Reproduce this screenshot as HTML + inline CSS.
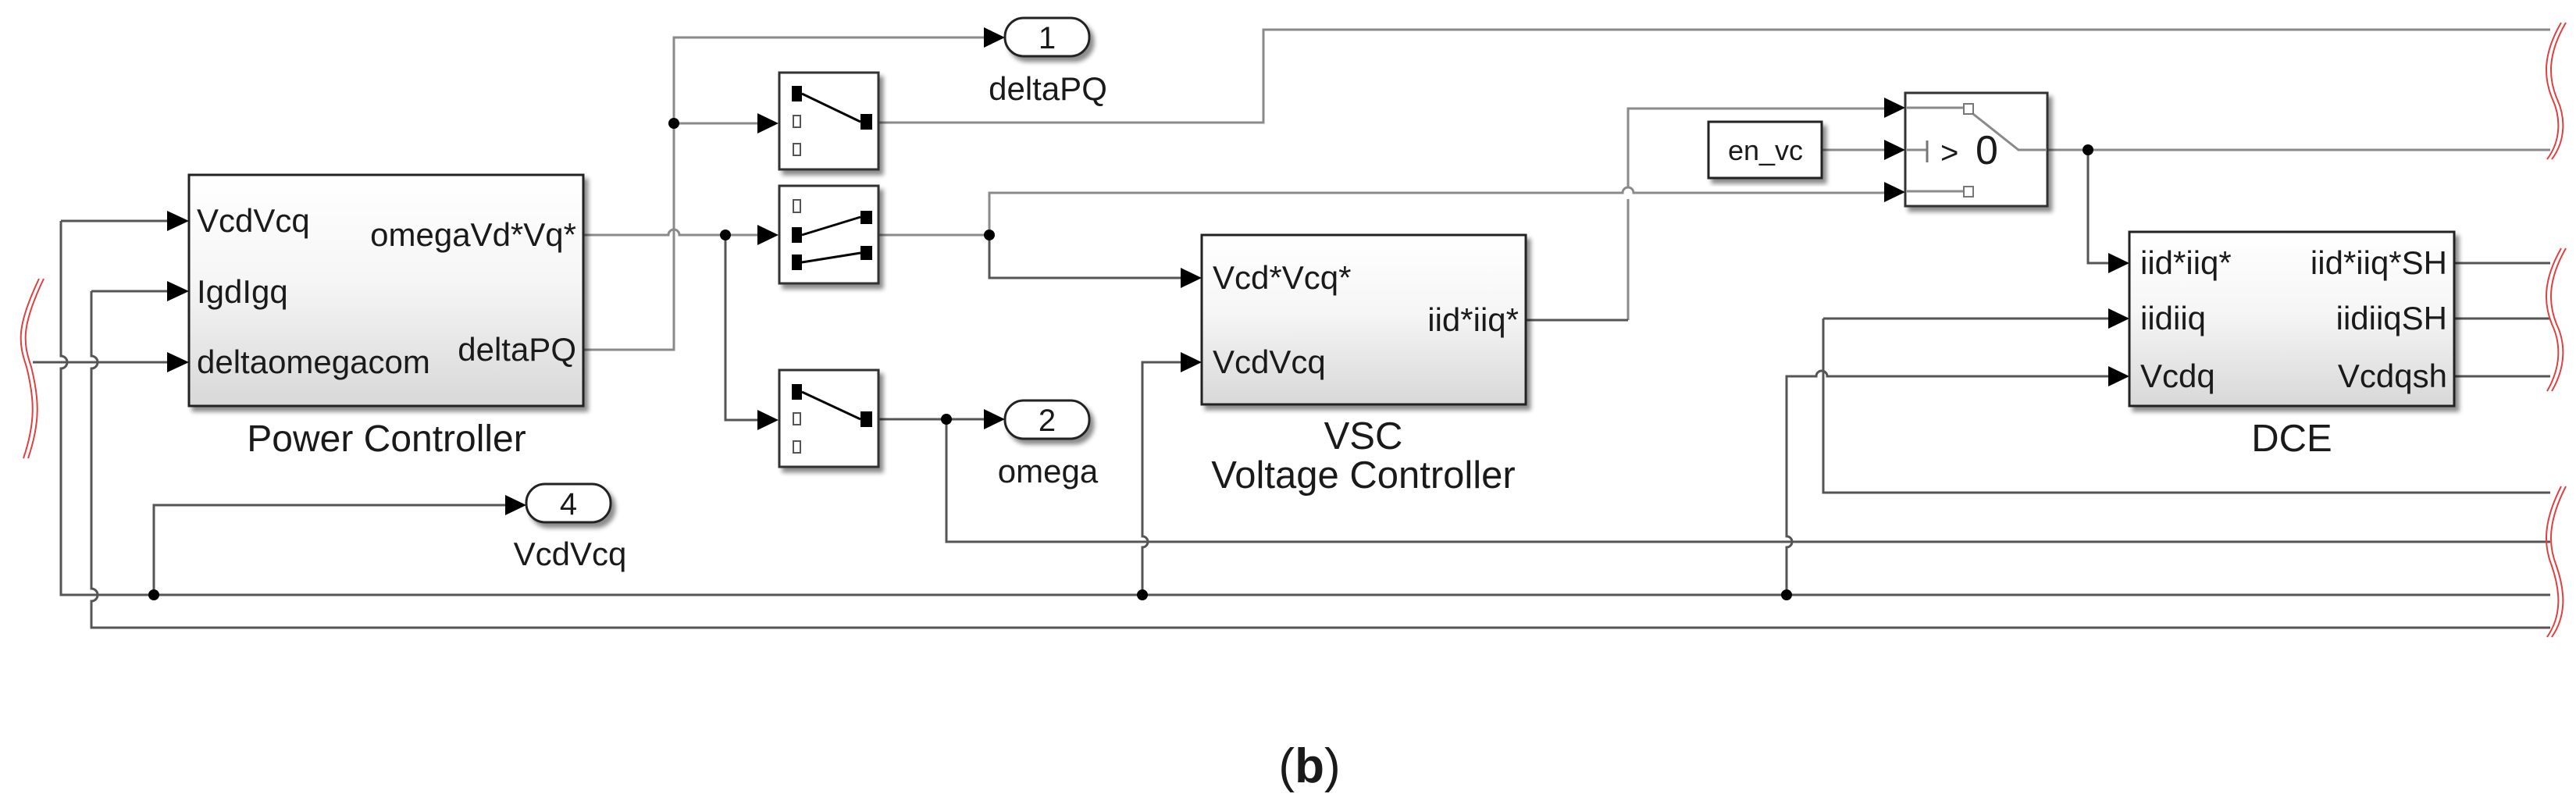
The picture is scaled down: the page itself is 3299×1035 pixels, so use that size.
<!DOCTYPE html>
<html><head><meta charset="utf-8"><style>
html,body{margin:0;padding:0;background:#fff;}
svg{display:block;}
text{font-family:"Liberation Sans",Arial,sans-serif;fill:#1a1a1a;}
</style></head><body>
<svg width="3299" height="1035" viewBox="0 0 3299 1035" xmlns="http://www.w3.org/2000/svg">
<defs>
<linearGradient id="g" x1="0" y1="0" x2="0" y2="1">
<stop offset="0" stop-color="#ffffff"/><stop offset="0.45" stop-color="#f6f6f6"/><stop offset="1" stop-color="#d8d8d8"/>
</linearGradient>
<filter id="sh" x="-5%" y="-5%" width="115%" height="120%"><feDropShadow dx="5" dy="6" stdDeviation="3" flood-color="#000" flood-opacity="0.45"/></filter>
</defs>
<rect width="3299" height="1035" fill="#fff"/>

<!-- wires -->
<g fill="none" stroke-width="3">
<g stroke="#8a8a8a">
<path d="M747,448 H863 V48 H1264"/>
<path d="M863,158 H976"/>
<path d="M747,301 H856 a7,7 0 0 1 14,0 H976"/>
<path d="M1126,157 H1618 V38 H3266"/>
<path d="M1126,301 H1267 V247 H2078 a7,7 0 0 1 14,0 H2416"/>
<path d="M2085,410 V255 M2085,239 V139 H2416"/>
<path d="M2333,192 H2416"/>
<path d="M2622,192 H3266"/>
</g>
<g stroke="#555">
<path d="M929,301 V538 H976"/>
<path d="M1267,301 V356 H1516"/>
<path d="M1954,410 H2085"/>
<path d="M1126,537 H1264"/>
<path d="M1212,537 V694 H3266"/>
<path d="M2674,192 V337 H2705"/>
<path d="M3143,337 H3266 M3143,408 H3266 M3143,482 H3266"/>
<path d="M2335,408 H2705 M2335,408 V631 H3266"/>
<path d="M2288,762 V701 a7,7 0 0 0 0,-14 V482 H2326 a7,7 0 0 1 14,0 H2705"/>
<path d="M1463,762 V701 a7,7 0 0 0 0,-14 V464 H1516"/>
<path d="M78,283 V456 a7,7 0 0 1 0,16 V762 H3266"/>
<path d="M78,283 H220"/>
<path d="M197,762 V647 H651"/>
<path d="M117,373 H220 M117,373 V456 a7,7 0 0 1 0,16 V754 a7,7 0 0 1 0,16 V804 H3266"/>
<path d="M42,464 H220"/>
</g>
</g>

<!-- junction dots -->
<g fill="#000">
<circle cx="863" cy="158" r="7"/><circle cx="929" cy="301" r="7"/>
<circle cx="1267" cy="301" r="7"/><circle cx="1212" cy="537" r="7"/>
<circle cx="2674" cy="192" r="7"/>
<circle cx="197" cy="762" r="7"/><circle cx="1463" cy="762" r="7"/><circle cx="2288" cy="762" r="7"/>
</g>

<!-- arrowheads -->
<g fill="#000">
<polygon points="214,270 242,283 214,296"/>
<polygon points="214,360 242,373 214,386"/>
<polygon points="214,451 242,464 214,477"/>
<polygon points="970,145 997,158 970,171"/>
<polygon points="970,288 997,301 970,314"/>
<polygon points="970,525 997,538 970,551"/>
<polygon points="1260,35 1287,48 1260,61"/>
<polygon points="1260,524 1287,537 1260,550"/>
<polygon points="647,634 674,647 647,660"/>
<polygon points="1512,343 1539,356 1512,369"/>
<polygon points="1512,451 1539,464 1512,477"/>
<polygon points="2413,125 2440,138 2413,151"/>
<polygon points="2413,179 2440,192 2413,205"/>
<polygon points="2413,233 2440,246 2413,259"/>
<polygon points="2700,324 2727,337 2700,350"/>
<polygon points="2700,395 2727,408 2700,421"/>
<polygon points="2700,469 2727,482 2700,495"/>
</g>

<!-- Power Controller -->
<rect x="242" y="224" width="505" height="296" fill="url(#g)" stroke="#222" stroke-width="3" filter="url(#sh)"/>
<text x="252" y="297" font-size="42">VcdVcq</text>
<text x="252" y="388" font-size="42">IgdIgq</text>
<text x="252" y="478" font-size="42">deltaomegacom</text>
<text x="738" y="315" font-size="42" text-anchor="end">omegaVd*Vq*</text>
<text x="738" y="462" font-size="42" text-anchor="end">deltaPQ</text>
<text x="495" y="578" font-size="48" text-anchor="middle">Power Controller</text>

<!-- VSC -->
<rect x="1539" y="301" width="415" height="217" fill="url(#g)" stroke="#222" stroke-width="3" filter="url(#sh)"/>
<text x="1553" y="370" font-size="42">Vcd*Vcq*</text>
<text x="1553" y="478" font-size="42">VcdVcq</text>
<text x="1945" y="424" font-size="42" text-anchor="end">iid*iiq*</text>
<text x="1746" y="575" font-size="49" text-anchor="middle">VSC</text>
<text x="1746" y="625" font-size="49" text-anchor="middle">Voltage Controller</text>

<!-- DCE -->
<rect x="2727" y="297" width="416" height="223" fill="url(#g)" stroke="#222" stroke-width="3" filter="url(#sh)"/>
<text x="2741" y="351" font-size="42">iid*iiq*</text>
<text x="2741" y="422" font-size="42">iidiiq</text>
<text x="2741" y="496" font-size="42">Vcdq</text>
<text x="3134" y="351" font-size="42" text-anchor="end">iid*iiq*SH</text>
<text x="3134" y="422" font-size="42" text-anchor="end">iidiiqSH</text>
<text x="3134" y="496" font-size="42" text-anchor="end">Vcdqsh</text>
<text x="2935" y="578" font-size="49" text-anchor="middle">DCE</text>

<!-- switches -->
<g stroke="#333" stroke-width="3" fill="#fff" filter="url(#sh)">
<rect x="998" y="93" width="127" height="124"/>
<rect x="998" y="238" width="127" height="125"/>
<rect x="998" y="474" width="127" height="124"/>
</g>
<g fill="#000">
<rect x="1014" y="110" width="13" height="20"/><rect x="1102" y="146" width="15" height="20"/>
<rect x="1014" y="291" width="13" height="20"/><rect x="1014" y="326" width="13" height="20"/>
<rect x="1102" y="270" width="15" height="17"/><rect x="1102" y="315" width="15" height="18"/>
<rect x="1014" y="492" width="13" height="20"/><rect x="1102" y="527" width="15" height="20"/>
</g>
<g fill="#fff" stroke="#555" stroke-width="2">
<rect x="1016" y="148" width="9" height="15"/><rect x="1016" y="184" width="9" height="15"/>
<rect x="1016" y="256" width="9" height="16"/>
<rect x="1016" y="529" width="9" height="15"/><rect x="1016" y="565" width="9" height="15"/>
</g>
<g stroke="#000" stroke-width="3">
<line x1="1027" y1="120" x2="1102" y2="156"/>
<line x1="1027" y1="301" x2="1102" y2="278"/>
<line x1="1027" y1="336" x2="1102" y2="324"/>
<line x1="1027" y1="502" x2="1102" y2="537"/>
</g>

<!-- multiport switch -->
<rect x="2440" y="119" width="182" height="145" fill="#fff" stroke="#333" stroke-width="3" filter="url(#sh)"/>
<g stroke="#8a8a8a" stroke-width="3" fill="none">
<path d="M2442,138 H2515 M2442,245 H2515 M2442,192 H2468"/>
<path d="M2527,146 L2585,192 H2620"/>
</g>
<line x1="2468" y1="180" x2="2468" y2="208" stroke="#777" stroke-width="3"/>
<rect x="2515" y="133" width="12" height="13" fill="#fff" stroke="#777" stroke-width="2"/>
<rect x="2515" y="239" width="12" height="13" fill="#fff" stroke="#777" stroke-width="2"/>
<text x="2485" y="209" font-size="40">&gt;</text>
<text x="2530" y="210" font-size="52">0</text>

<!-- en_vc constant -->
<rect x="2188" y="156" width="145" height="72" fill="#fff" stroke="#222" stroke-width="3" filter="url(#sh)"/>
<text x="2261" y="205" font-size="36" text-anchor="middle">en_vc</text>

<!-- outports -->
<g fill="#fff" stroke="#222" stroke-width="3" filter="url(#sh)">
<rect x="1287" y="23" width="108" height="49" rx="24"/>
<rect x="1287" y="513" width="108" height="49" rx="24"/>
<rect x="674" y="620" width="108" height="49" rx="24"/>
</g>
<text x="1341" y="62" font-size="40" text-anchor="middle">1</text>
<text x="1341" y="552" font-size="40" text-anchor="middle">2</text>
<text x="728" y="659" font-size="40" text-anchor="middle">4</text>
<text x="1342" y="128" font-size="42" text-anchor="middle">deltaPQ</text>
<text x="1342" y="618" font-size="42" text-anchor="middle">omega</text>
<text x="730" y="724" font-size="42" text-anchor="middle">VcdVcq</text>

<!-- red breaks -->
<g fill="none" stroke="#e04040" stroke-width="2">
<path d="M50,357 C20,420 24,440 34,470 C44,510 46,540 30,587"/>
<path d="M56,357 C26,420 30,440 40,470 C50,510 52,540 36,587"/>
<path d="M3280,29 C3256,70 3258,100 3268,125 C3280,150 3280,180 3262,204"/>
<path d="M3286,29 C3262,70 3264,100 3274,125 C3286,150 3286,180 3268,204"/>
<path d="M3280,318 C3256,360 3258,390 3268,415 C3280,440 3280,470 3262,501"/>
<path d="M3286,318 C3262,360 3264,390 3274,415 C3286,440 3286,470 3268,501"/>
<path d="M3280,623 C3256,670 3258,700 3268,725 C3280,760 3280,790 3262,816"/>
<path d="M3286,623 C3262,670 3264,700 3274,725 C3286,760 3286,790 3268,816"/>
</g>

<text x="1677" y="1002" font-size="62" text-anchor="middle" font-family="Liberation Serif,serif">(<tspan font-weight="bold">b</tspan>)</text>
</svg>
</body></html>
